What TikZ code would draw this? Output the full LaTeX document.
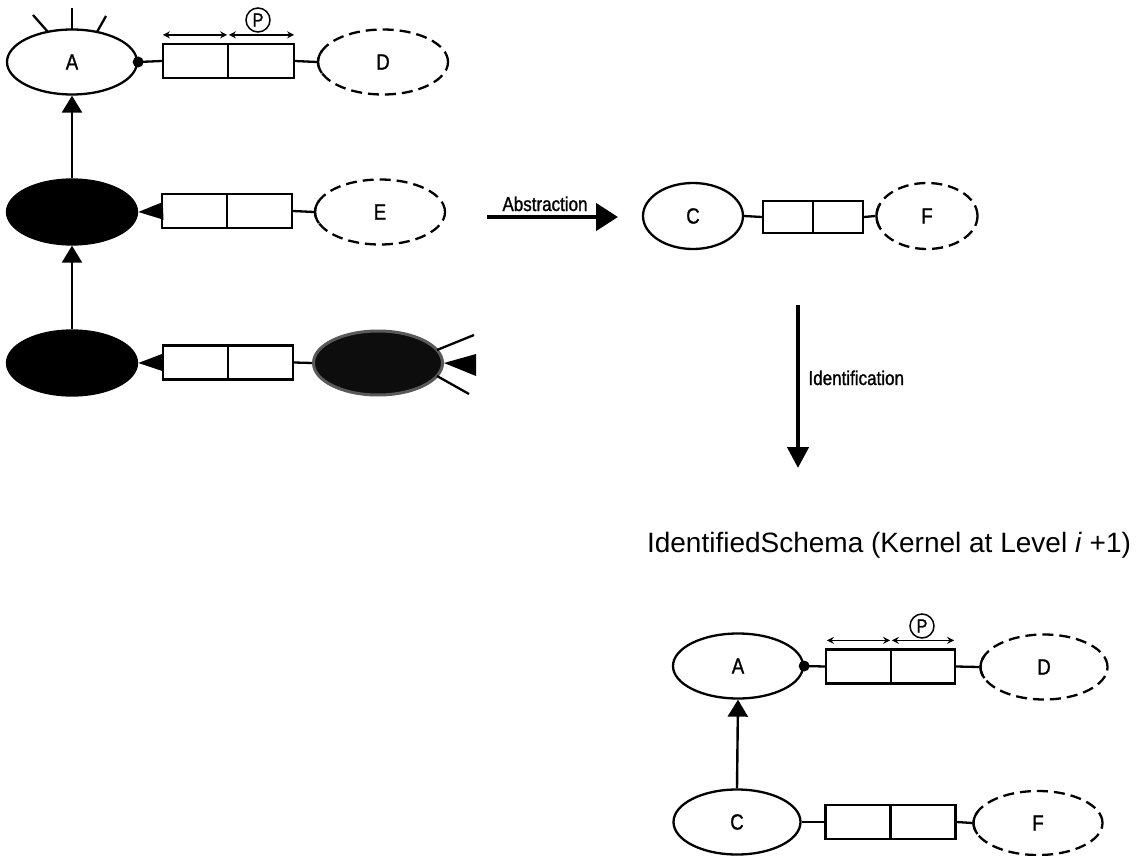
\documentclass[tikz,border=0pt]{standalone}
\usepackage{fontspec}
\setmainfont{Liberation Sans}
\newfontfamily\narrowfont[FakeStretch=0.85,FakeBold=1.2]{Liberation Sans}
\usetikzlibrary{shapes.geometric,arrows.meta}
\begin{document}
\begin{tikzpicture}[x=1pt,y=-1pt,
  ent/.style={ellipse,draw,line width=2.3pt,minimum width=130pt,minimum height=65pt,inner sep=0pt,font=\narrowfont\fontsize{22}{22}\selectfont},
  dent/.style={ent,dash pattern=on 11pt off 6pt},
  fent/.style={ent,fill=black},
  half/.style={rectangle,draw,line width=2.3pt,minimum width=65pt,minimum height=34pt,inner sep=0pt},
  link/.style={line width=2.3pt},
  isa/.style={line width=2.4pt,-{Triangle[length=17pt,width=20pt]}},
  tri/.style={line width=2.3pt,-{Triangle[length=25pt,width=17pt]}},
  darr/.style={line width=1.6pt,{Stealth[length=7pt,width=7pt]}-{Stealth[length=7pt,width=7pt]}},
  big/.style={line width=4.5pt,-{Triangle[length=22pt,width=27pt]}},
  lbl/.style={font=\narrowfont\fontsize{20}{20}\selectfont},
  pc/.style={circle,draw,line width=1.5pt,minimum size=24pt,inner sep=0pt,font=\narrowfont\fontsize{19}{19}\selectfont}
]
\useasboundingbox (0,0) rectangle (1138,856);

% ---------- left group ----------
\node[ent] (A) at (72,62) {A};
\draw[link] (33,15) -- (48,32);
\draw[link] (72,8) -- (72,30);
\draw[link] (106,16) -- (97,32);
\node[half] (b1a) at (195.5,61) {};
\node[half,minimum width=66pt] (b1b) at (261,61) {};
\node[dent] (D) at (383,62) {D};
\draw[link] (b1a.west) -- (A.east);
\fill (A.east) circle (5.5pt);
\draw[link] (b1b.east) -- (D.west);
\coordinate (p1a) at ([yshift=8pt]b1a.north west);
\coordinate (p1b) at ([yshift=8pt]b1a.north east);
\coordinate (p1c) at ([yshift=8pt]b1b.north west);
\coordinate (p1d) at ([yshift=8pt]b1b.north east);
\draw[darr] ([xshift=1pt]p1a) -- ([xshift=-2pt]p1b);
\draw[darr] ([xshift=2pt]p1c) -- ([xshift=-1pt]p1d);
\node[pc] (P1) at (258,20) {P};

\node[fent] (G2) at (72,212) {};
\node[half] (b2a) at (194.5,211) {};
\node[half] (b2b) at (259.5,211) {};
\node[dent] (E) at (380,212) {E};
\draw[tri] (b2a.west) -- (G2.east);
\draw[link] (b2b.east) -- (E.west);

\node[fent] (G3) at (72,363) {};
\node[half] (b3a) at (195.5,362.5) {};
\node[half] (b3b) at (260.5,362.5) {};
\node[ellipse,minimum width=129pt,minimum height=64pt,inner sep=0pt,fill=black!95,draw=black!65,line width=3pt] (X) at (378,363) {};
\draw[tri] (b3a.west) -- (G3.east);
\draw[link] (b3b.east) -- (X.west);
\draw[link] ([shift={(-7pt,13pt)}]X.east) -- ++(37,-15);
\draw[link] ([shift={(-7pt,-13pt)}]X.east) -- ++(32,18);
\fill (X.east) -- ++(32,-9) -- ++(0,22) -- cycle;

\draw[isa] (G2.north) -- (A.south);
\draw[isa] (G3.north) -- (G2.south);

% ---------- abstraction ----------
\coordinate (absL) at (487,217);
\coordinate (absR) at (618,217);
\draw[big] (absL) -- (absR);
\node[lbl,anchor=base] (abs) at (545,211) {Abstraction};

\node[ent,minimum width=100pt,minimum height=66pt] (C) at (693,216) {C};
\node[half,minimum width=50pt,minimum height=32pt] (bca) at (788,217) {};
\node[half,minimum width=50pt,minimum height=32pt] (bcb) at (838,217) {};
\node[dent,minimum width=101pt,minimum height=66pt] (F) at (927,216) {F};
\draw[link] (C.east) -- (bca.west);
\draw[link] (bcb.east) -- (F.west);

% ---------- identification ----------
\coordinate (idT) at (798,305);
\coordinate (idB) at (798,468);
\draw[line width=4.5pt,-{Triangle[length=21pt,width=21pt]}] (idT) -- (idB);
\node[lbl,anchor=base west] (idl) at (805,385) {Identification};

\node[anchor=base,font=\fontsize{28}{28}\selectfont] (title) at (889,552) {IdentifiedSchema (Kernel at Level \textit{i} +1)};

% ---------- bottom group ----------
\node[ent] (A2) at (738,666) {A};
\node[half] (b4a) at (858.5,666.5) {};
\node[half,minimum width=64pt] (b4b) at (923,666.5) {};
\node[dent,minimum width=127pt] (D2) at (1044,667) {D};
\draw[link] (b4a.west) -- (A2.east);
\fill (A2.east) circle (5.5pt);
\draw[link] (b4b.east) -- (D2.west);
\coordinate (p2a) at ([yshift=8pt]b4a.north west);
\coordinate (p2b) at ([yshift=8pt]b4a.north east);
\coordinate (p2c) at ([yshift=8pt]b4b.north west);
\coordinate (p2d) at ([yshift=8pt]b4b.north east);
\draw[darr] ([xshift=2pt]p2a) -- ([xshift=-2pt]p2b);
\draw[darr] ([xshift=2pt]p2c) -- ([xshift=-2pt]p2d);
\node[pc] (P2) at (922,626) {P};

\node[ent,minimum width=127pt] (C2) at (737,822) {C};
\node[half] (b5a) at (858,822) {};
\node[half] (b5b) at (923,822) {};
\node[dent,minimum width=129pt,minimum height=64pt] (F2) at (1038,823) {F};
\draw[link] (C2.east) -- (b5a.west);
\draw[link] (b5b.east) -- (F2.west);
\draw[isa] (C2.north) -- (A2.south);

% solid bits where connectors meet dashed ellipses
\foreach \n/\rx/\ry in {D/65/32.5,E/65/32.5,F/50.5/33,D2/63.5/32.5,F2/64.5/32}
  \draw[link] ([shift={(\n.center)}]160:\rx pt and \ry pt) arc[start angle=160,end angle=200,x radius=\rx pt,y radius=\ry pt];
\end{tikzpicture}
\end{document}
